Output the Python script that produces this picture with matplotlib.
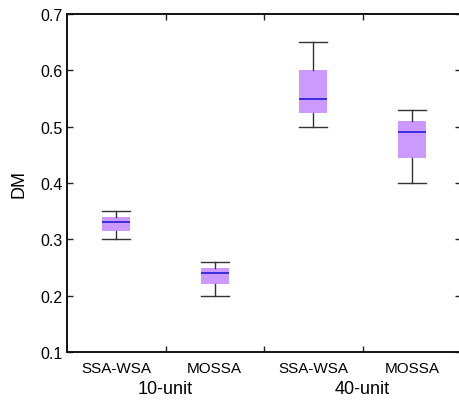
import matplotlib
matplotlib.use("Agg")
import matplotlib.pyplot as plt

plt.rcParams['font.family'] = ['Liberation Sans', 'DejaVu Sans']

methods = ["SSA-WSA", "MOSSA", "SSA-WSA", "MOSSA"]
groups = ["10-unit", "40-unit"]
whislo = [0.30, 0.20, 0.50, 0.40]
q1 = [0.315, 0.22, 0.525, 0.445]
med = [0.33, 0.24, 0.55, 0.49]
q3 = [0.34, 0.25, 0.60, 0.51]
whishi = [0.35, 0.26, 0.65, 0.53]
yticks = [0.1, 0.2, 0.3, 0.4, 0.5, 0.6, 0.7]

W, H = 459, 402
fig = plt.figure(figsize=(W/100, H/100), dpi=100)
ax = fig.add_axes([67/W, 1-353/H, (461-67)/W, (353-15)/H])

stats = []
for i in range(len(methods)):
    stats.append(dict(med=med[i], q1=q1[i], q3=q3[i], whislo=whislo[i], whishi=whishi[i], fliers=[]))

positions = list(range(1, len(methods)+1))
ax.bxp(stats, positions=positions, widths=0.28, patch_artist=True, showfliers=False,
       boxprops=dict(facecolor='#cc99ff', edgecolor='none', linewidth=0),
       medianprops=dict(color='#3b2ee0', linewidth=1.4),
       whiskerprops=dict(color='#333333', linewidth=1.0),
       capprops=dict(color='#333333', linewidth=1.0),
       capwidths=0.28)

ax.set_xlim(0.5, 4.5)
ax.set_ylim(0.1, 0.7)
ax.set_yticks(yticks)
ax.set_yticklabels([f"{v:.1f}" for v in yticks], fontsize=11.5)
ax.set_xticks([1.5, 2.5, 3.5])
ax.set_xticklabels([])
ax.tick_params(axis='both', direction='in', length=4, width=1, color='#222222', top=True, right=True)
ax.tick_params(axis='y', pad=3)
for s in ax.spines.values():
    s.set_linewidth(1.4)
    s.set_color('#111111')

ax.set_ylabel("DM", fontsize=13, labelpad=9)

for i, m in enumerate(methods):
    ax.text(positions[i], -0.028, m, transform=ax.get_xaxis_transform(), ha='center', va='top', fontsize=11)
for j, g in enumerate(groups):
    ax.text(1.5 + 2*j, -0.082, g, transform=ax.get_xaxis_transform(), ha='center', va='top', fontsize=13)

fig.savefig("out.png", dpi=100)
